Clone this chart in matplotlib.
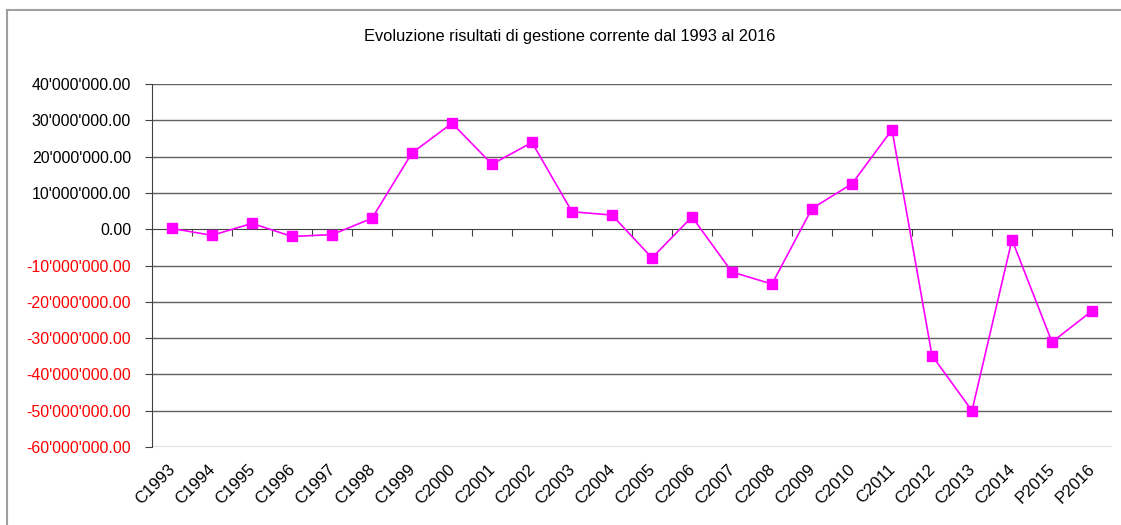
import numpy as np
import matplotlib.pyplot as plt
import matplotlib.transforms as mtransforms
from matplotlib.ticker import FuncFormatter, FixedLocator

plt.rcParams['font.family'] = ['Liberation Sans', 'DejaVu Sans']

# --- dati ---
anni = ['C1993', 'C1994', 'C1995', 'C1996', 'C1997', 'C1998', 'C1999', 'C2000',
        'C2001', 'C2002', 'C2003', 'C2004', 'C2005', 'C2006', 'C2007', 'C2008',
        'C2009', 'C2010', 'C2011', 'C2012', 'C2013', 'C2014', 'P2015', 'P2016']
risultati = [0.2, -1.7, 1.6, -2.0, -1.5, 3.0, 21.0, 29.2,
             17.9, 23.9, 4.8, 3.9, -7.9, 3.4, -11.8, -15.1,
             5.7, 12.5, 27.4, -34.8, -50.0, -2.9, -31.1, -22.5]  # milioni
y_ticks = [40, 30, 20, 10, 0, -10, -20, -30, -40, -50, -60]

valori = np.array(risultati) * 1e6
x = np.arange(len(anni))

fig = plt.figure(figsize=(11.21, 5.25), dpi=100)
ax = fig.add_axes([152/1121, 1 - 447/525, (1112 - 152)/1121, (447 - 84)/525])

# cornice del grafico
fig.add_artist(plt.Line2D([7/1121, 1], [1 - 10/525, 1 - 10/525], transform=fig.transFigure,
                          color='#a0a0a0', lw=1.5))
fig.add_artist(plt.Line2D([7/1121, 7/1121], [0, 1 - 10/525], transform=fig.transFigure,
                          color='#a0a0a0', lw=1.5))

ax.set_xlim(-0.5, len(anni) - 0.5)
ax.set_ylim(-60e6, 40e6)

# griglia orizzontale
for v in y_ticks:
    if v != 0:
        ax.axhline(v * 1e6, color='#606060', lw=1.0, zorder=1)

ax.plot(x, valori, color='#ff00ff', lw=1.2, marker='s', markersize=6.5,
        markerfacecolor='#ff00ff', markeredgecolor='#ff00ff', zorder=3)

# assi
for s in ['top', 'right']:
    ax.spines[s].set_visible(False)
ax.spines['left'].set_color('#404040')
ax.spines['bottom'].set_position(('data', 0))
ax.spines['bottom'].set_color('#404040')

ax.yaxis.set_major_locator(FixedLocator([v * 1e6 for v in y_ticks]))
ax.yaxis.set_major_formatter(FuncFormatter(lambda v, p: f"{v:,.2f}".replace(',', "'")))
ax.tick_params(axis='y', length=5, color='#404040', labelsize=11.5, pad=10)
for lab, v in zip(ax.get_yticklabels(), ax.get_yticks()):
    lab.set_color('red' if v < 0 else 'black')

# tick tra le categorie, etichette in basso
ax.xaxis.set_major_locator(FixedLocator(np.arange(len(anni) + 1) - 0.5))
ax.set_xticklabels([])
ax.tick_params(axis='x', length=5, direction='out', color='#404040')

trans = mtransforms.blended_transform_factory(ax.transData, ax.transAxes)
offset = mtransforms.ScaledTranslation(1/100, -20/100, fig.dpi_scale_trans)
for xi, lab in zip(x, anni):
    ax.text(xi, 0, lab, transform=trans + offset, rotation=45, rotation_mode='anchor',
            ha='right', va='center', fontsize=12)

fig.text(570/1121, 1 - 37/525, 'Evoluzione risultati di gestione corrente dal 1993 al 2016',
         ha='center', va='center', fontsize=11.8)

fig.savefig('out.png', dpi=100)
